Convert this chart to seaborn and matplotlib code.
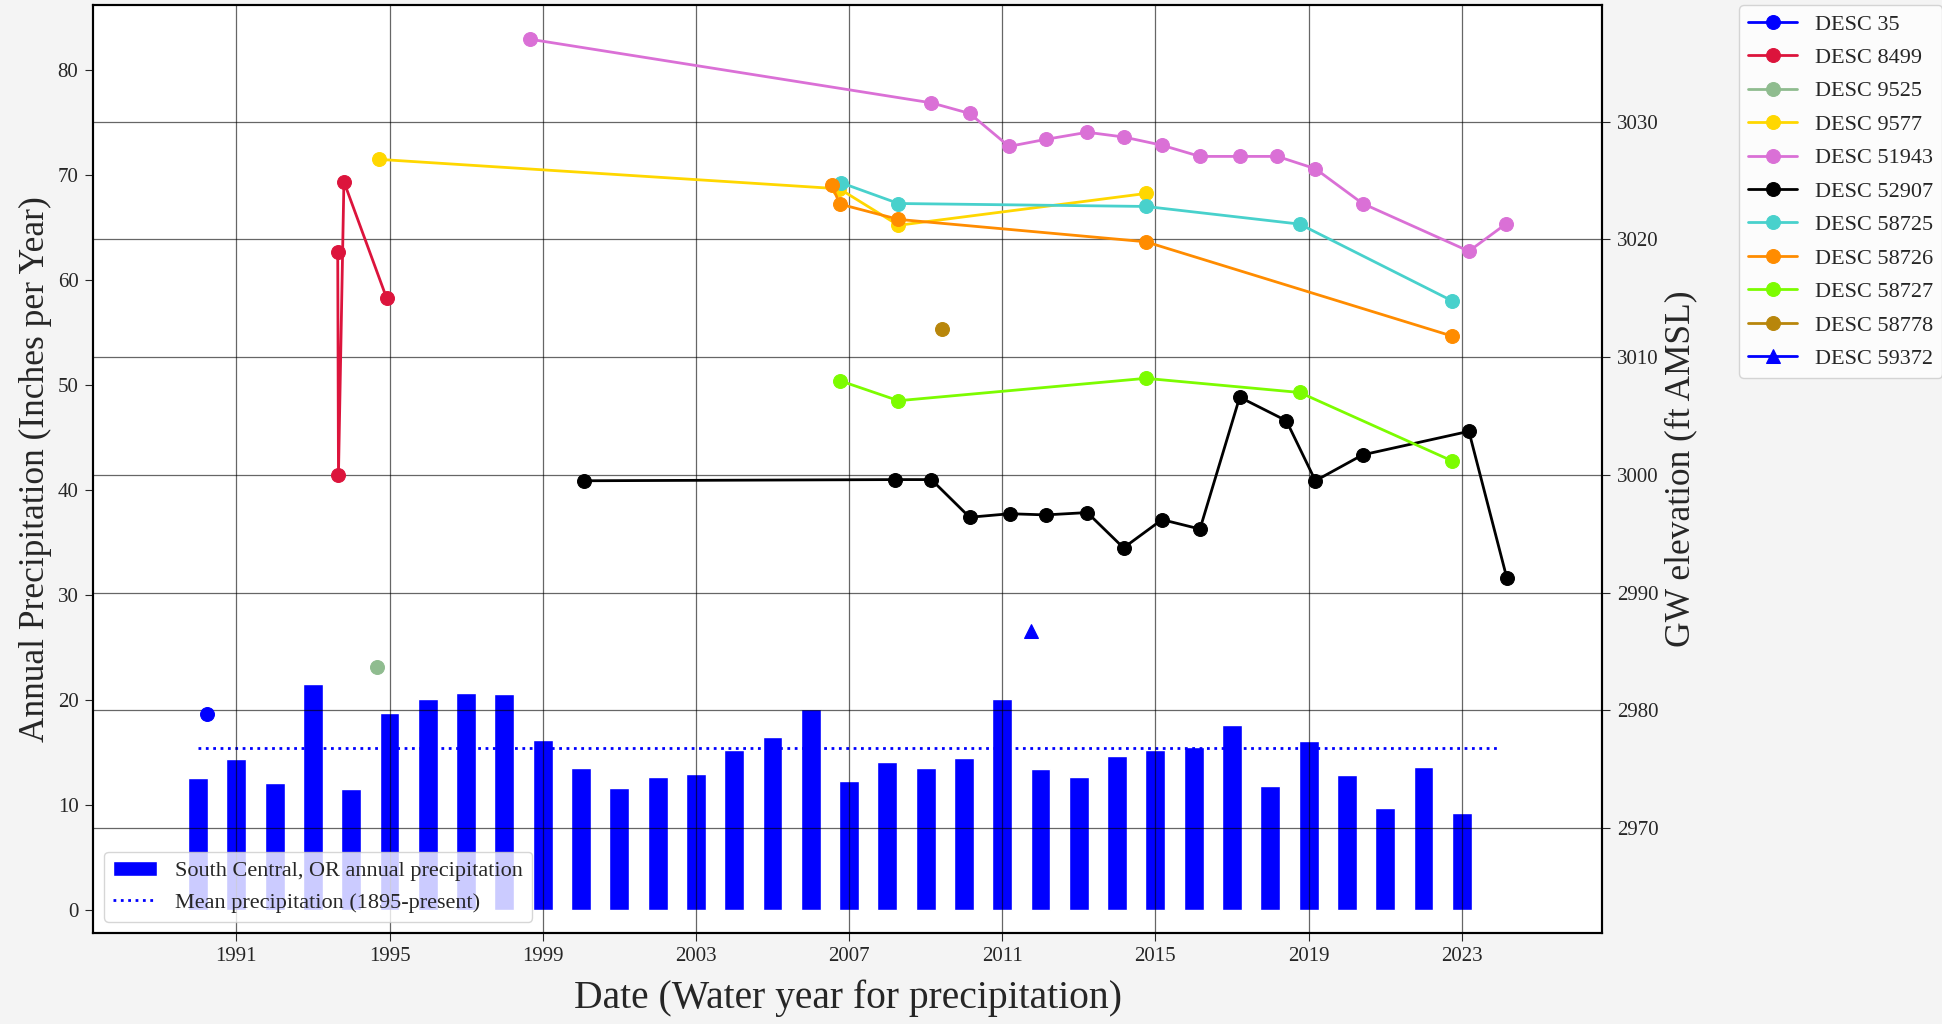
import pandas as pd
import numpy as np
import seaborn as sns
import matplotlib.pyplot as plt
import matplotlib.dates as mdates

# Annual precipitation, South Central OR (water years)
precip_years = list(range(1990, 2024))
precip_values = [12.6, 14.4, 12.1, 21.5, 11.5, 18.8, 20.1, 20.7, 20.6, 16.2,
                 13.5, 11.6, 12.7, 13.0, 15.2, 16.5, 19.1, 12.3, 14.1, 13.5,
                 14.5, 20.1, 13.4, 12.7, 14.7, 15.2, 15.5, 17.6, 11.8, 16.1,
                 12.9, 9.7, 13.65, 9.26]
mean_precip = 15.44
mean_start = "1990-01-01"
mean_end = "2023-12-01"

# groundwater elevations (ft AMSL)
desc_35_dates = ["1990-03-28"]
desc_35_gw = [2979.7]

desc_8499_dates = ["1993-08-25", "1993-09-01", "1993-10-23", "1994-12-05"]
desc_8499_gw = [3018.9, 3000.0, 3024.9, 3015.0]

desc_9525_dates = ["1994-09-06"]
desc_9525_gw = [2983.7]

desc_9577_dates = ["1994-09-20", "2006-10-01", "2008-04-16", "2014-10-01"]
desc_9577_gw = [3026.8, 3024.3, 3021.2, 3023.9]

desc_51943_dates = ["1998-09-05", "2009-02-24", "2010-02-24", "2011-03-07",
                    "2012-02-21", "2013-03-22", "2014-03-03", "2015-03-05",
                    "2016-03-01", "2017-03-15", "2018-03-10", "2019-03-07",
                    "2020-05-30", "2023-03-10", "2024-02-24"]
desc_51943_gw = [3037.0, 3031.6, 3030.7, 3027.9, 3028.5, 3029.1, 3028.7,
                 3028.0, 3027.05, 3027.05, 3027.05, 3026.0, 3023.05, 3019.0,
                 3021.3]

desc_52907_dates = ["2000-01-30", "2008-03-14", "2009-02-24", "2010-02-24",
                    "2011-03-14", "2012-02-21", "2013-03-22", "2014-03-03",
                    "2015-03-05", "2016-03-01", "2017-03-15", "2018-06-03",
                    "2019-03-07", "2020-05-30", "2023-03-10", "2024-03-07"]
desc_52907_gw = [2999.5, 2999.6, 2999.6, 2996.4, 2996.7, 2996.6, 2996.8,
                 2993.8, 2996.2, 2995.4, 3006.6, 3004.6, 2999.5, 3001.7,
                 3003.7, 2991.2]

desc_58725_dates = ["2006-10-20", "2008-04-16", "2014-10-01", "2018-10-08", "2022-09-27"]
desc_58725_gw = [3024.8, 3023.05, 3022.8, 3021.3, 3014.8]

desc_58726_dates = ["2006-07-20", "2006-10-05", "2008-04-16", "2014-10-01", "2022-09-27"]
desc_58726_gw = [3024.6, 3023.0, 3021.7, 3019.8, 3011.8]

desc_58727_dates = ["2006-10-05", "2008-04-16", "2014-10-01", "2018-10-08", "2022-09-27"]
desc_58727_gw = [3008.0, 3006.3, 3008.2, 3007.0, 3001.2]

desc_58778_dates = ["2009-06-10"]
desc_58778_gw = [3012.4]

desc_59372_dates = ["2011-10-01"]
desc_59372_gw = [2986.7]

wells = [
    ("DESC 35", desc_35_dates, desc_35_gw, "blue", "o"),
    ("DESC 8499", desc_8499_dates, desc_8499_gw, "crimson", "o"),
    ("DESC 9525", desc_9525_dates, desc_9525_gw, "darkseagreen", "o"),
    ("DESC 9577", desc_9577_dates, desc_9577_gw, "gold", "o"),
    ("DESC 51943", desc_51943_dates, desc_51943_gw, "orchid", "o"),
    ("DESC 52907", desc_52907_dates, desc_52907_gw, "black", "o"),
    ("DESC 58725", desc_58725_dates, desc_58725_gw, "mediumturquoise", "o"),
    ("DESC 58726", desc_58726_dates, desc_58726_gw, "darkorange", "o"),
    ("DESC 58727", desc_58727_dates, desc_58727_gw, "lawngreen", "o"),
    ("DESC 58778", desc_58778_dates, desc_58778_gw, "darkgoldenrod", "o"),
    ("DESC 59372", desc_59372_dates, desc_59372_gw, "blue", "^"),
]

sns.set_style("white")
plt.rcParams['font.family'] = ['Liberation Serif', 'DejaVu Serif']

fig, ax1 = plt.subplots(figsize=(19.42, 10.24), dpi=100)
fig.patch.set_facecolor("#f4f4f4")
fig.subplots_adjust(left=0.0479, right=0.825, top=0.995, bottom=0.089)

# precipitation bars on the left axis
bar_dates = pd.to_datetime([f"{y}-01-01" for y in precip_years])
bars = ax1.bar(bar_dates, precip_values, width=190, color="blue",
               label="South Central, OR annual precipitation")
mean_line, = ax1.plot(pd.to_datetime([mean_start, mean_end]), [mean_precip, mean_precip],
                      linestyle=":", color="blue", linewidth=2,
                      label="Mean precipitation (1895-present)")
ax1.set_ylim(-2.18, 86.2)
ax1.set_yticks(np.arange(0, 81, 10))
ax1.set_ylabel("Annual Precipitation (Inches per Year)", fontsize=25.5)
ax1.set_xlabel("Date (Water year for precipitation)", fontsize=28.5, labelpad=9)
ax1.tick_params(axis="both", labelsize=15, direction="out", length=5.5, pad=5,
                left=True, bottom=True)
ax1.set_axisbelow(False)
ax1.grid(True, axis="x", color="black", linewidth=0.9, alpha=0.6)
ax1.legend(handles=[bars, mean_line], loc="lower left", fontsize=16)

# groundwater elevations on the right axis
ax2 = ax1.twinx()
for name, dates, gw, color, mk in wells:
    sns.lineplot(x=pd.to_datetime(dates), y=gw, ax=ax2, color=color,
                 marker=mk, markersize=10, markeredgecolor=color,
                 linewidth=2, label=name, sort=False, estimator=None)
ax2.set_ylim(2961.1, 3039.9)
ax2.set_yticks(np.arange(2970, 3031, 10))
ax2.set_ylabel("GW elevation (ft AMSL)", fontsize=25.5)
ax2.tick_params(axis="y", labelsize=15, direction="out", length=5.5, pad=5, right=True)
ax2.grid(True, axis="y", color="black", linewidth=0.9, alpha=0.6)
ax2.legend(loc="upper left", bbox_to_anchor=(1.091, 1.0), borderaxespad=0,
           fontsize=16, labelspacing=0.58, handlelength=2.2)

ticks = pd.to_datetime([f"{y}-01-01" for y in range(1991, 2024, 4)])
ax1.set_xticks(ticks)
ax1.xaxis.set_major_formatter(mdates.DateFormatter("%Y"))
ax1.set_xlim(pd.Timestamp("1987-04-05"), pd.Timestamp("2026-09-01"))

for ax in (ax1, ax2):
    for s in ax.spines.values():
        s.set_color("black")
        s.set_linewidth(1.5)

plt.savefig("out.png", dpi=100, facecolor=fig.get_facecolor())
